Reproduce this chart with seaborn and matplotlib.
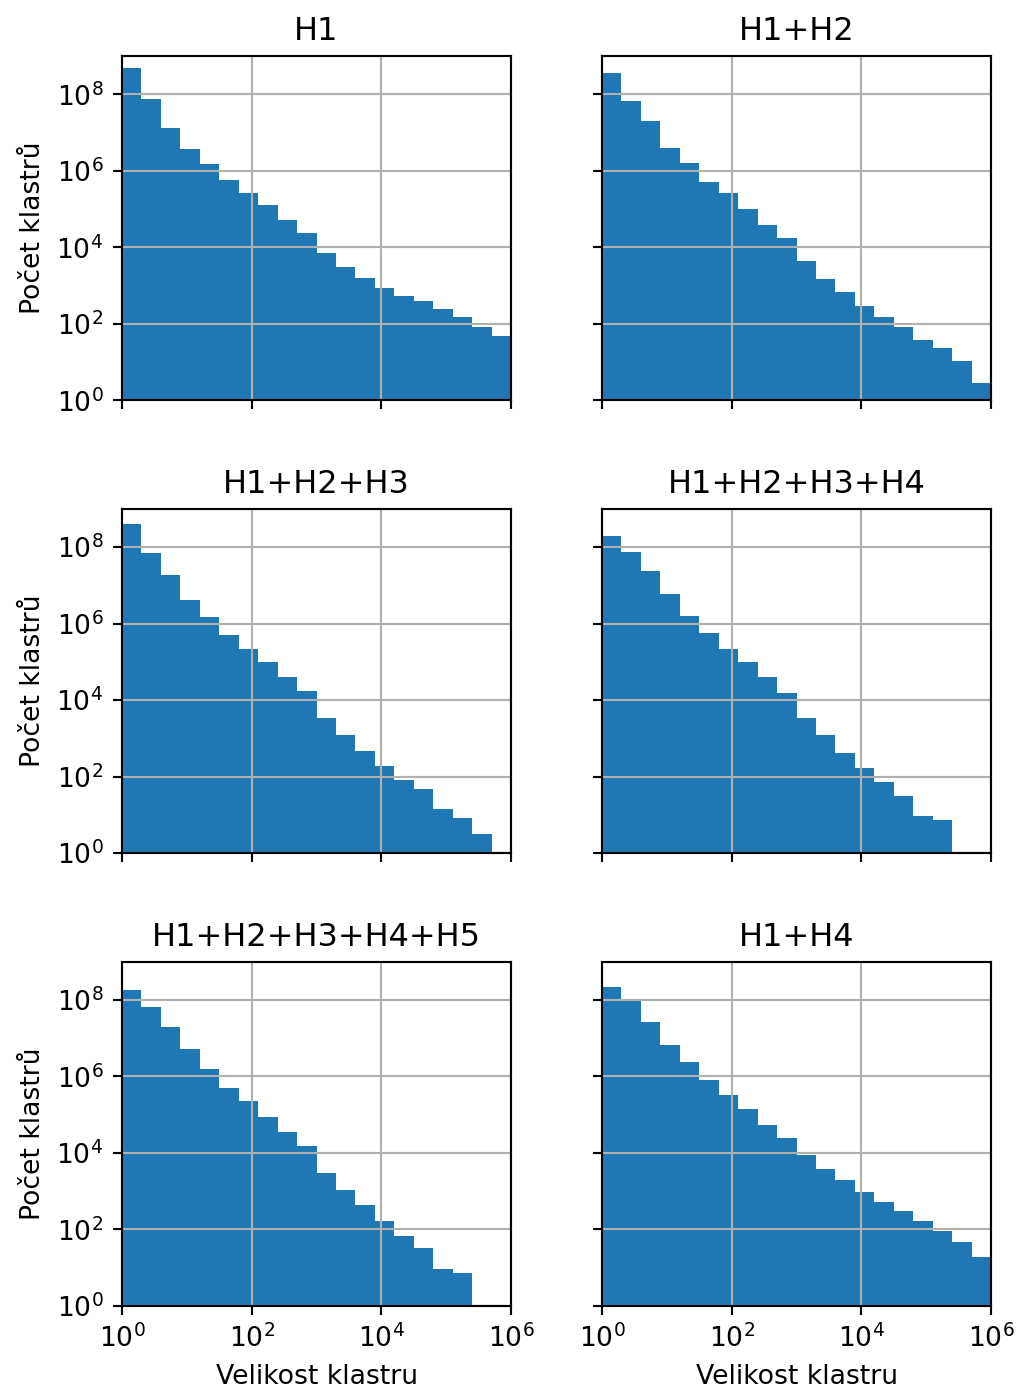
import numpy as np
import pandas as pd
import matplotlib
matplotlib.use('Agg')
import matplotlib.pyplot as plt
import seaborn as sns
from matplotlib.ticker import NullLocator

# hranice binu: 20 binu logaritmicky od 10^0 do 10^6
hranice = np.logspace(0, 6, 21)
velikost_stred = np.sqrt(hranice[:-1] * hranice[1:])

nazvy = ['H1', 'H1+H2', 'H1+H2+H3', 'H1+H2+H3+H4', 'H1+H2+H3+H4+H5', 'H1+H4']

pocet_h1 = [4.8e8, 7.6e7, 1.35e7, 3.7e6, 1.5e6, 5.8e5, 2.6e5, 1.3e5, 5.1e4, 2.3e4,
            7.1e3, 3.1e3, 1.55e3, 870, 540, 390, 245, 150, 85, 49]
pocet_h12 = [3.7e8, 6.6e7, 2.0e7, 4.0e6, 1.6e6, 5.0e5, 2.6e5, 1.0e5, 3.9e4, 1.75e4,
             4.4e3, 1.5e3, 680, 300, 148, 83, 37, 23, 10.5, 2.9]
pocet_h123 = [3.9e8, 6.8e7, 1.85e7, 4.1e6, 1.45e6, 5.0e5, 2.2e5, 1.0e5, 3.9e4, 1.75e4,
              3.4e3, 1.2e3, 480, 186, 83, 47, 14.5, 8.1, 3.2, 0]
pocet_h1234 = [1.9e8, 7.4e7, 2.4e7, 5.8e6, 1.6e6, 5.8e5, 2.2e5, 1.0e5, 3.9e4, 1.55e4,
               3.4e3, 1.2e3, 420, 166, 74, 32, 9.1, 7.2, 0, 0]
pocet_h12345 = [1.85e8, 6.6e7, 2.0e7, 5.1e6, 1.6e6, 5.0e5, 2.2e5, 8.7e4, 3.5e4, 1.5e4,
                3.0e3, 1.07e3, 430, 166, 66, 33, 9.1, 7.2, 0, 0]
pocet_h14 = [2.1e8, 9.3e7, 2.6e7, 6.5e6, 2.3e6, 7.9e5, 3.2e5, 1.4e5, 5.5e4, 2.5e4,
             8.7e3, 3.9e3, 1.9e3, 950, 525, 300, 170, 93, 47, 19]

pocty = [pocet_h1, pocet_h12, pocet_h123, pocet_h1234, pocet_h12345, pocet_h14]

fig, axes = plt.subplots(3, 2, figsize=(1022 / 192, 1396 / 192), dpi=192,
                         sharex=True, sharey=True)
fig.subplots_adjust(left=0.1194, right=0.9697, top=0.9599, bottom=0.0645,
                    wspace=0.234, hspace=0.3145)

for ax, nazev, pocet in zip(axes.flat, nazvy, pocty):
    df = pd.DataFrame({'velikost': velikost_stred, 'pocet': pocet})
    sns.histplot(data=df, x='velikost', weights='pocet', bins=20, binrange=(0, 6),
                 log_scale=True, color='#1f77b4', alpha=1, linewidth=0, ax=ax)
    ax.set_yscale('log')
    ax.set_xlim(1, 1e6)
    ax.set_ylim(1, 1e9)
    ax.set_xticks([1e0, 1e2, 1e4, 1e6])
    ax.set_yticks([1e0, 1e2, 1e4, 1e6, 1e8])
    ax.xaxis.set_minor_locator(NullLocator())
    ax.yaxis.set_minor_locator(NullLocator())
    ax.grid(True)
    ax.set_title(nazev)
    ax.set_xlabel('Velikost klastru')
    ax.set_ylabel('Počet klastrů')

plt.savefig('out.png', dpi=192)
